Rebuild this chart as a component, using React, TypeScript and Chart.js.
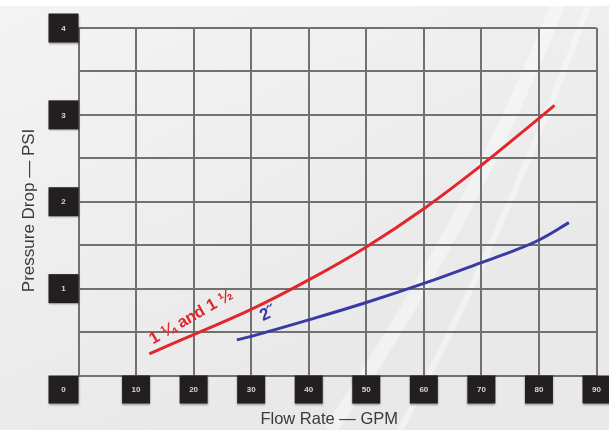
import { useEffect, useRef } from "react";
import { Chart, registerables } from "chart.js";

Chart.register(...registerables);

// ---- data ----
const flowTicks = [0, 10, 20, 30, 40, 50, 60, 70, 80, 90];
const pressureTicks = [0, 1, 2, 3, 4];

const redFlow = [12.3, 20, 30, 40, 50, 60, 70, 80, 82.7];
const redPsi = [0.25, 0.47, 0.76, 1.1, 1.48, 1.92, 2.42, 2.96, 3.11];

const blueFlow = [27.5, 30, 40, 50, 60, 70, 75, 80, 85.2];
const bluePsi = [0.41, 0.45, 0.64, 0.84, 1.06, 1.3, 1.42, 1.56, 1.76];

const seriesNames = ["1 ¼ and 1 ½", "2˝"];
const seriesColors = ["#e2262c", "#3a3aa6"];
// label anchors in data units (flow, psi) and rotation in degrees
const labelFlow = [19.6, 32.9];
const labelPsi = [0.67, 0.71];
const labelAngle = [-30, -26];

const xTitle = "Flow Rate — GPM";
const yTitle = "Pressure Drop — PSI";

const FONT = "'Liberation Sans', Arial, Helvetica, sans-serif";

function drawBox(ctx: CanvasRenderingContext2D, x: number, y: number, w: number, h: number, text: string) {
  ctx.save();
  ctx.shadowColor = "rgba(0,0,0,0.35)";
  ctx.shadowBlur = 2;
  ctx.shadowOffsetY = 1;
  ctx.fillStyle = "#231f20";
  ctx.fillRect(x, y, w, h);
  ctx.restore();
  ctx.save();
  ctx.fillStyle = "#d8d8d8";
  ctx.font = `bold 8px ${FONT}`;
  ctx.textAlign = "center";
  ctx.textBaseline = "middle";
  ctx.fillText(text, x + w / 2, y + h / 2 + 0.5);
  ctx.restore();
}

const decorPlugin = {
  id: "decor",
  beforeDraw(chart: any) {
    const { ctx, width, height } = chart;
    ctx.save();
    const g = ctx.createLinearGradient(0, 0, width * 0.3, height);
    g.addColorStop(0, "#f4f4f4");
    g.addColorStop(1, "#e9e9e9");
    ctx.fillStyle = g;
    ctx.fillRect(0, 0, width, height);
    ctx.fillStyle = "#ffffff";
    ctx.fillRect(0, 0, width, 6);
    // soft white swoosh
    ctx.globalAlpha = 0.4;
    ctx.strokeStyle = "#ffffff";
    ctx.lineWidth = 14;
    ctx.beginPath();
    ctx.moveTo(560, 0);
    ctx.bezierCurveTo(500, 150, 420, 300, 330, 430);
    ctx.stroke();
    ctx.lineWidth = 6;
    ctx.beginPath();
    ctx.moveTo(590, 0);
    ctx.bezierCurveTo(540, 140, 470, 300, 400, 430);
    ctx.stroke();
    ctx.restore();
  },
  afterDatasetsDraw(chart: any) {
    const { ctx, scales } = chart;
    const xs = scales.x;
    const ys = scales.y;
    ctx.save();
    seriesNames.forEach((name, i) => {
      const px = xs.getPixelForValue(labelFlow[i]);
      const py = ys.getPixelForValue(labelPsi[i]);
      ctx.save();
      ctx.translate(px, py);
      ctx.rotate((labelAngle[i] * Math.PI) / 180);
      ctx.fillStyle = seriesColors[i];
      ctx.font = `bold ${i === 0 ? 16.5 : 17}px ${FONT}`;
      ctx.textAlign = "center";
      ctx.textBaseline = "middle";
      ctx.fillText(name, 0, 0);
      ctx.restore();
    });
    ctx.restore();
  },
  afterDraw(chart: any) {
    const { ctx, chartArea, scales } = chart;
    const xs = scales.x;
    const ys = scales.y;
    pressureTicks.forEach((v) => {
      if (v === 0) return;
      const py = ys.getPixelForValue(v);
      drawBox(ctx, chartArea.left - 30, py - 14.5, 30, 29, String(v));
    });
    flowTicks.forEach((v) => {
      if (v === 0) {
        drawBox(ctx, chartArea.left - 30, chartArea.bottom, 30, 28, "0");
        return;
      }
      const px = xs.getPixelForValue(v);
      drawBox(ctx, px - 14, chartArea.bottom, 28, 28, String(v));
    });
    // axis titles
    ctx.save();
    ctx.fillStyle = "#3a3a3a";
    ctx.textAlign = "center";
    ctx.textBaseline = "middle";
    ctx.font = `16.5px ${FONT}`;
    ctx.fillText(xTitle, chartArea.left + (chartArea.right - chartArea.left) * 0.484, chartArea.bottom + 44);
    ctx.translate(29, chartArea.top + (chartArea.bottom - chartArea.top) * 0.525);
    ctx.rotate(-Math.PI / 2);
    ctx.font = `17px ${FONT}`;
    ctx.fillText(yTitle, 0, 0);
    ctx.restore();
  },
};

export default function App() {
  const ref = useRef<HTMLCanvasElement>(null);
  useEffect(() => {
    if (!ref.current) return;
    const gridColor = "#717171";
    const chart = new Chart(ref.current, {
      type: "scatter",
      data: {
        datasets: [
          {
            label: seriesNames[0],
            data: redFlow.map((f, i) => ({ x: f, y: redPsi[i] })),
            showLine: true,
            borderColor: seriesColors[0],
            borderWidth: 3,
            pointRadius: 0,
            tension: 0.4,
          },
          {
            label: seriesNames[1],
            data: blueFlow.map((f, i) => ({ x: f, y: bluePsi[i] })),
            showLine: true,
            borderColor: seriesColors[1],
            borderWidth: 3,
            pointRadius: 0,
            tension: 0.4,
          },
        ],
      },
      options: {
        animation: false,
        responsive: false,
        devicePixelRatio: 1,
        layout: { padding: { left: 78.5, top: 28, right: 12.5, bottom: 54.5 } },
        plugins: { legend: { display: false }, tooltip: { enabled: false } },
        scales: {
          x: {
            type: "linear",
            min: 0,
            max: 90,
            ticks: { display: false, stepSize: 10 },
            grid: { color: gridColor, lineWidth: 2, drawTicks: false },
            border: { color: gridColor, width: 2 },
            title: { display: false, text: xTitle },
          },
          y: {
            type: "linear",
            min: 0,
            max: 4,
            ticks: { display: false, stepSize: 0.5 },
            grid: { color: gridColor, lineWidth: 2, drawTicks: false },
            border: { color: gridColor, width: 2 },
            title: { display: false, text: yTitle },
          },
        },
      },
      plugins: [decorPlugin],
    } as any);
    return () => chart.destroy();
  }, []);
  return (
    <div style={{ position: "absolute", left: 0, top: 0, width: 609, height: 430 }}>
      <canvas ref={ref} width={609} height={430} style={{ display: "block" }} />
    </div>
  );
}
